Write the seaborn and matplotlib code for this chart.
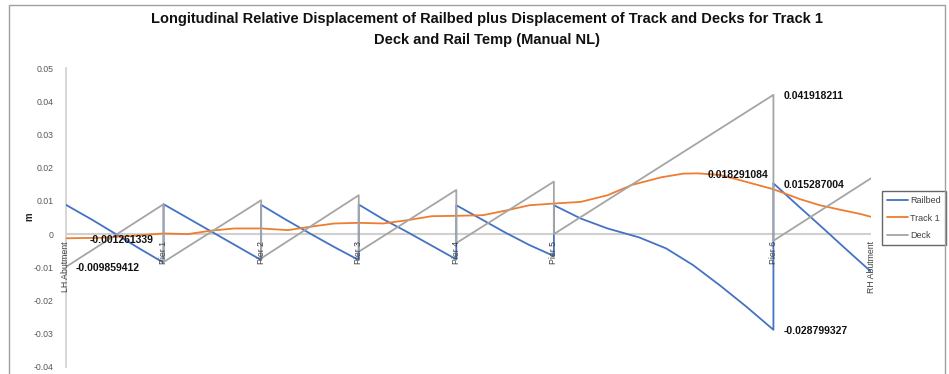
import matplotlib
matplotlib.use("Agg")
import matplotlib.pyplot as plt
from matplotlib.patches import Rectangle
import seaborn as sns
import pandas as pd

# Support positions along the structure (chainage, m) and their names
support_ch = [0, 40, 80, 120, 160, 200, 290, 330]
support_names = ["LH Abutment", "Pier 1", "Pier 2", "Pier 3", "Pier 4", "Pier 5", "Pier 6", "RH Abutment"]

# Railbed relative displacement (m); repeated chainage = jump at a pier
railbed_ch = [0, 11, 20, 30, 40,
              40, 50, 60, 70, 80,
              80, 90, 100, 110, 120,
              120, 130, 140, 150, 160,
              160, 170, 180, 190, 200,
              200, 211, 222, 235, 246, 257, 268, 279, 290,
              290, 300, 310, 320, 330]
railbed_m = [0.0088, 0.0042, 0.0002, -0.0043, -0.0086,
             0.0090, 0.0048, 0.0006, -0.0036, -0.0078,
             0.0088, 0.0044, 0.0002, -0.0039, -0.0078,
             0.0089, 0.0045, 0.0006, -0.0035, -0.0076,
             0.0087, 0.0046, 0.0005, -0.0033, -0.0066,
             0.0087, 0.0047, 0.0017, -0.0010, -0.0043, -0.0093, -0.0154, -0.0219, -0.028799327,
             0.015287004, 0.0086, 0.0020, -0.0047, -0.0113]

# Track 1 displacement (m)
track_ch = [0, 14, 26, 40, 50, 59, 69, 80, 91, 100, 110, 120, 130, 140, 150, 160, 171,
            181, 190, 200, 211, 222, 232, 244, 253, 259, 268, 276, 290, 301, 309, 317, 326, 330]
track_m = [-0.001261339, -0.0011, -0.0006, 0.0002, 0.0000, 0.0010, 0.0017, 0.0017, 0.0012,
           0.0022, 0.0032, 0.0034, 0.0032, 0.0042, 0.0054, 0.0055, 0.0057, 0.0072, 0.0087,
           0.0092, 0.0097, 0.0117, 0.0148, 0.0171, 0.0182, 0.018291084, 0.0178, 0.0163,
           0.0135, 0.0105, 0.0087, 0.0074, 0.0060, 0.0052]

# Deck displacement (m)
deck_ch = [0, 40, 40, 80, 80, 120, 120, 160, 160, 200, 200, 290, 290, 330]
deck_m = [-0.009859412, 0.0090, -0.0084, 0.0102, -0.0073, 0.0117, -0.0053, 0.0133,
          -0.0027, 0.0158, 0.0000, 0.041918211, -0.0020, 0.0168]

# Values printed next to their points: (series, index, x offset in points)
value_labels = [("track", 0, 17), ("deck", 0, 7), ("track", 25, 7),
                ("deck", 11, 7), ("railbed", 34, 7), ("railbed", 33, 7)]

y_ticks = [0.05, 0.04, 0.03, 0.02, 0.01, 0, -0.01, -0.02, -0.03, -0.04]

sns.set_theme(style="white")
plt.rcParams["font.family"] = ["Liberation Sans", "DejaVu Sans"]

W, H = 949, 374
fig = plt.figure(figsize=(W / 100, H / 100), dpi=100)
fig.patch.set_facecolor("white")

# chart frame
fig.patches.append(Rectangle((9 / W, -0.05), (945 - 9) / W, 1.05 - 5 / H,
                             transform=fig.transFigure, fill=False,
                             edgecolor="#a0a0a0", linewidth=1.0, zorder=0))

ax = fig.add_axes([66 / W, 1 - 367 / H, (871 - 66) / W, (367 - 68) / H])
ax.set_facecolor("none")

colors = {"Railbed": "#4472C4", "Track 1": "#ED7D31", "Deck": "#A5A5A5"}
series = {
    "railbed": pd.DataFrame({"ch": railbed_ch, "m": railbed_m}),
    "track": pd.DataFrame({"ch": track_ch, "m": track_m}),
    "deck": pd.DataFrame({"ch": deck_ch, "m": deck_m}),
}
ax.axhline(0, color="#d0d0d0", lw=1.5, zorder=1)

for key, name in [("railbed", "Railbed"), ("track", "Track 1"), ("deck", "Deck")]:
    sns.lineplot(data=series[key], x="ch", y="m", ax=ax, estimator=None, sort=False,
                 color=colors[name], lw=1.3, label=name, zorder=3)

ax.set_xlim(0, 330)
ax.set_ylim(-0.04, 0.05)
ax.set_yticks(y_ticks)
ax.set_yticklabels(["0" if v == 0 else f"{v:.2f}" for v in y_ticks],
                   fontsize=6.3, color="#595959")
ax.tick_params(axis="y", length=0, pad=9)
ax.set_xticks([])
ax.set_xlabel("")
ax.set_ylabel("")
for s in ["top", "right", "bottom"]:
    ax.spines[s].set_visible(False)
ax.spines["left"].set_color("#d0d0d0")
ax.spines["left"].set_linewidth(1.2)

# support names below the zero line
for c, n in zip(support_ch, support_names):
    ax.annotate(n, xy=(c, 0), xytext=(0, -5), textcoords="offset points",
                rotation=90, ha="center", va="top", fontsize=6.3, color="#404040")

# value labels
for key, idx, dx in value_labels:
    df = series[key]
    xv, yv = df["ch"].iloc[idx], df["m"].iloc[idx]
    ax.annotate(f"{yv:.9f}", xy=(xv, yv), xytext=(dx, -1), textcoords="offset points",
                ha="left", va="center", fontsize=7.5, fontweight="bold", color="#111111")

fig.text(29 / W, 1 - 217 / H, "m", rotation=90, ha="center", va="center",
         fontsize=7, fontweight="bold", color="#222222")

title_kw = dict(ha="center", va="center", fontsize=10.5, fontweight="bold", color="#111111",
                family=["Liberation Sans Narrow", "Liberation Sans"])
fig.text(487 / W, 1 - 19 / H,
         "Longitudinal Relative Displacement of Railbed plus Displacement of Track and Decks for Track 1",
         **title_kw)
fig.text(487 / W, 1 - 40 / H, "Deck and Rail Temp (Manual NL)", **title_kw)

leg = ax.legend(loc="upper left", bbox_to_anchor=(882 / W, 1 - 191 / H),
                bbox_transform=fig.transFigure, fontsize=6.5, frameon=True,
                fancybox=False, borderpad=0.55, labelspacing=0.95, handlelength=2.3,
                handletextpad=0.25, borderaxespad=0)
leg.get_frame().set_edgecolor("#404040")
leg.get_frame().set_linewidth(1.0)
for t in leg.get_texts():
    t.set_color("#404040")

fig.savefig("out.png", dpi=100)
